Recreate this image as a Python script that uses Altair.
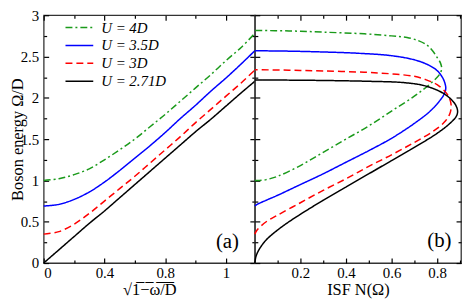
import altair as alt
import pandas as pd

FONT = "Liberation Serif, Times New Roman, serif"

series = ["U = 4D", "U = 3.5D", "U = 3D", "U = 2.71D"]
colors = ["#1a9a1a", "#0000ff", "#ff0000", "#000000"]
dashes = [[7, 3, 2, 3], [1, 0], [7, 4], [1, 0]]

# panel (a): x = sqrt(1 - w/D)
a_x = [0, 0.1, 0.2, 0.3, 0.4, 0.5, 0.6, 0.7, 0.8, 0.9, 1.0, 1.1, 1.2, 1.3, 1.39]
a_green = [1.0, 1.02, 1.07, 1.14, 1.25, 1.37, 1.50, 1.65, 1.80, 1.96, 2.12, 2.28, 2.45, 2.61, 2.78]
a_blue = [0.69, 0.71, 0.77, 0.86, 0.98, 1.12, 1.27, 1.42, 1.58, 1.75, 1.91, 2.08, 2.24, 2.41, 2.57]
a_red = [0.35, 0.38, 0.47, 0.60, 0.75, 0.90, 1.05, 1.21, 1.37, 1.53, 1.70, 1.86, 2.02, 2.18, 2.335]
a_black = [0, 0.16, 0.32, 0.48, 0.63, 0.79, 0.95, 1.11, 1.27, 1.43, 1.59, 1.74, 1.90, 2.06, 2.20]

# panel (b): ISF N(Omega), path order
b_green_n = [0, 0.02, 0.05, 0.1, 0.2, 0.3, 0.4, 0.5, 0.6, 0.7, 0.77, 0.81, 0.82,
             0.815, 0.80, 0.78, 0.755, 0.72, 0.668, 0.6, 0.48, 0.3, 0.15, 0]
b_green_y = [1.0, 1.0, 1.01, 1.05, 1.18, 1.34, 1.50, 1.66, 1.84, 2.02, 2.17, 2.28, 2.35,
             2.42, 2.49, 2.57, 2.64, 2.69, 2.73, 2.75, 2.775, 2.795, 2.81, 2.815]
b_blue_n = [0, 0.01, 0.05, 0.1, 0.2, 0.3, 0.4, 0.5, 0.6, 0.7, 0.77, 0.81, 0.83, 0.838,
            0.835, 0.825, 0.80, 0.76, 0.70, 0.6, 0.45, 0.3, 0.15, 0]
b_blue_y = [0.69, 0.71, 0.76, 0.82, 0.95, 1.08, 1.22, 1.36, 1.51, 1.69, 1.84, 1.96, 2.04, 2.11,
            2.17, 2.24, 2.33, 2.40, 2.46, 2.51, 2.54, 2.555, 2.565, 2.57]
b_red_n = [0, 0.01, 0.05, 0.1, 0.2, 0.3, 0.4, 0.5, 0.6, 0.7, 0.78, 0.83, 0.855, 0.862,
           0.855, 0.84, 0.80, 0.75, 0.70, 0.6, 0.48, 0.3, 0.15, 0]
b_red_y = [0.35, 0.40, 0.50, 0.58, 0.73, 0.88, 1.02, 1.17, 1.31, 1.46, 1.59, 1.70, 1.80, 1.90,
           1.99, 2.06, 2.16, 2.22, 2.26, 2.29, 2.31, 2.325, 2.335, 2.34]
b_black_n = [0, 0.005, 0.02, 0.05, 0.1, 0.15, 0.2, 0.3, 0.4, 0.5, 0.6, 0.7, 0.8, 0.86, 0.885, 0.89,
             0.88, 0.85, 0.81, 0.74, 0.65, 0.5, 0.3, 0.1, 0]
b_black_y = [0, 0.08, 0.17, 0.28, 0.40, 0.50, 0.59, 0.76, 0.92, 1.08, 1.24, 1.40, 1.57, 1.70, 1.78, 1.84,
             1.92, 2.01, 2.08, 2.15, 2.185, 2.20, 2.21, 2.215, 2.215]

y_major = [0, 0.5, 1, 1.5, 2, 2.5, 3]
y_minor = [0.25, 0.75, 1.25, 1.75, 2.25, 2.75]
a_major = [0, 0.4, 0.8, 1.2]
a_minor = [0.2, 0.6, 1.0]
b_major = [0.2, 0.4, 0.6, 0.8]
b_minor = [0.1, 0.3, 0.5, 0.7, 0.9]

rows_a = []
for s, ys in zip(series, [a_green, a_blue, a_red, a_black]):
    for i, (x, y) in enumerate(zip(a_x, ys)):
        rows_a.append({"series": s, "x": x, "y": y, "i": i})
df_a = pd.DataFrame(rows_a)

rows_b = []
for s, ns, ys in zip(series, [b_green_n, b_blue_n, b_red_n, b_black_n],
                     [b_green_y, b_blue_y, b_red_y, b_black_y]):
    for i, (x, y) in enumerate(zip(ns, ys)):
        rows_b.append({"series": s, "x": x, "y": y, "i": i})
df_b = pd.DataFrame(rows_b)

ys_scale = alt.Scale(domain=[0, 3], nice=False, zero=False)
xa_scale = alt.Scale(domain=[0, 1.39], nice=False, zero=False)
xb_scale = alt.Scale(domain=[0, 0.905], nice=False, zero=False)

MAJ, MIN = 5, 3


def ax(orient, vals, size, **kw):
    base = dict(orient=orient, values=vals, tickSize=size, offset=-size, domain=False,
                grid=False, tickColor="#000", tickWidth=1.2)
    if "title" not in kw:
        kw["title"] = None
    if "labels" not in kw:
        kw["labels"] = False
    base.update(kw)
    return alt.Axis(**base)


lab = dict(labels=True, format="~g", labelFont=FONT, labelFontSize=15, labelColor="#000",
           titleFont=FONT, titleFontSize=16.5, titleFontWeight="normal", titleColor="#000")

legend = alt.Legend(orient="none", legendX=21, legendY=5, title=None, symbolType="stroke",
                    symbolSize=784, symbolStrokeWidth=1.5, labelFont=FONT, labelFontSize=15,
                    labelFontStyle="italic", labelColor="#000", padding=0, rowPadding=2,
                    clipHeight=15, labelOffset=7)
color = alt.Color("series:N", scale=alt.Scale(domain=series, range=colors), legend=legend)
dash = alt.StrokeDash("series:N", scale=alt.Scale(domain=series, range=dashes), legend=legend)


def panel(df, xs, xmaj, xmin, xtitle, tag, tagx, tagy, with_labels_y, legend_on):
    enc_color = color if legend_on else alt.Color("series:N", scale=alt.Scale(domain=series, range=colors), legend=None)
    enc_dash = dash if legend_on else alt.StrokeDash("series:N", scale=alt.Scale(domain=series, range=dashes), legend=None)
    if with_labels_y:
        yax = ax("left", y_major, MAJ, title="Boson energy Ω/D", titlePadding=-5, labelPadding=5, **lab)
    else:
        yax = ax("left", y_major, MAJ)
    lines = alt.Chart(df).mark_line(strokeWidth=1.5, interpolate="catmull-rom").encode(
        x=alt.X("x:Q", scale=xs, axis=ax("bottom", xmaj, MAJ, title=xtitle, titlePadding=1,
                                         labelPadding=3, **lab)),
        y=alt.Y("y:Q", scale=ys_scale, axis=yax),
        color=enc_color, strokeDash=enc_dash, order="i:Q", detail="series:N")
    minor = alt.Chart(df).mark_point(opacity=0).encode(
        x=alt.X("x:Q", scale=xs, axis=ax("bottom", xmin, MIN)),
        y=alt.Y("y:Q", scale=ys_scale, axis=ax("left", y_minor, MIN)))
    top = alt.Chart(df).mark_point(opacity=0).encode(
        x=alt.X("x:Q", scale=xs, axis=ax("top", xmaj, MAJ)),
        y=alt.Y("y:Q", scale=ys_scale, axis=ax("right", y_major, MAJ)))
    topmin = alt.Chart(df).mark_point(opacity=0).encode(
        x=alt.X("x:Q", scale=xs, axis=ax("top", xmin, MIN)),
        y=alt.Y("y:Q", scale=ys_scale, axis=ax("right", y_minor, MIN)))
    tagc = alt.Chart(pd.DataFrame({"x": [tagx], "y": [tagy], "t": [tag]})).mark_text(
        font=FONT, fontSize=21, color="#000").encode(
        x=alt.X("x:Q", scale=xs, axis=None), y=alt.Y("y:Q", scale=ys_scale, axis=None), text="t:N")
    return alt.layer(lines, minor, top, topmin, tagc).resolve_axis(x="independent", y="independent")


panel_a = panel(df_a, xa_scale, a_major, a_minor, "√1̅−̅ω̅/̅D̅", "(a)", 1.21, 0.26, True, True).properties(width=213, height=250)
panel_b = panel(df_b, xb_scale, b_major, b_minor, "ISF N(Ω)", "(b)", 0.81, 0.27, False, False).properties(width=208, height=250)

chart = alt.hconcat(panel_a, panel_b, spacing=0, bounds="flush").configure_view(
    stroke="#333", strokeWidth=1.3).properties(
    padding={"left": 0, "top": -2, "right": 0, "bottom": -2})

chart.save("out.html", embed_options={"renderer": "svg", "actions": False})
